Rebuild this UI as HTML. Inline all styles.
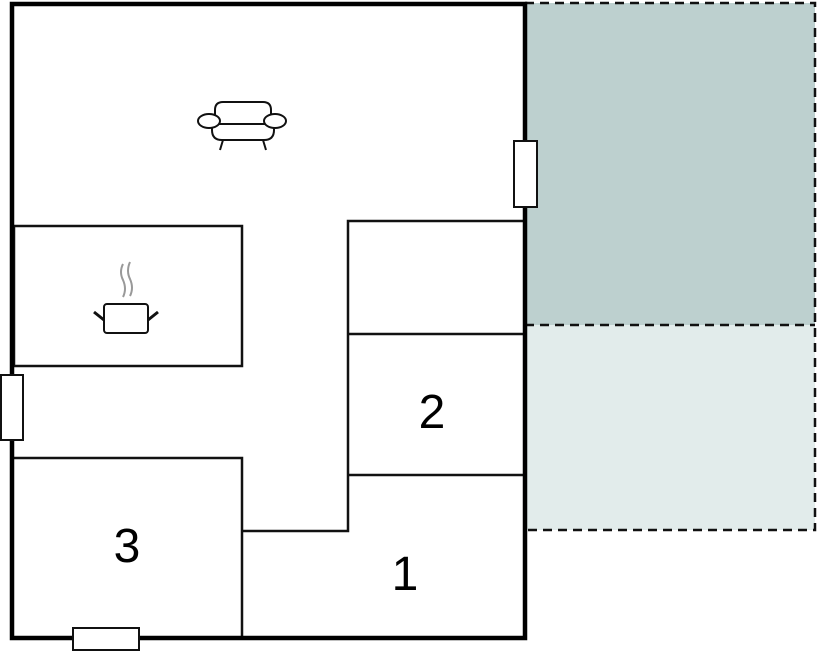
<!DOCTYPE html>
<html><head><style>body{margin:0;background:#fff;}svg{display:block}</style></head>
<body>
<svg width="819" height="652" xmlns="http://www.w3.org/2000/svg">
<rect x="525" y="3" width="290" height="322" fill="#bdd0cf"/>
<rect x="525" y="325" width="290" height="205" fill="#e2eceb"/>
<g stroke="#111" stroke-width="2.5" stroke-dasharray="9,6" fill="none">
<path d="M525 3 H815 V530 H525"/><path d="M525 325 H815"/>
</g>
<g stroke="#111" stroke-width="2.5" fill="none">
<rect x="14" y="226" width="228" height="140"/>
<path d="M14 458 H242 V638"/>
<path d="M242 531 H348 V221 H525"/>
<path d="M348 334 H525 M348 475 H525"/>
</g>
<rect x="12" y="4" width="513" height="634" fill="none" stroke="#000" stroke-width="4.5"/>
<g fill="#fff" stroke="#111" stroke-width="2">
<rect x="514" y="141" width="23" height="66"/>
<rect x="1" y="375" width="22" height="65"/>
<rect x="73" y="628" width="66" height="22"/>
</g>
<g font-family="Liberation Sans, sans-serif" font-size="48" fill="#000" text-anchor="middle">
<text x="405" y="590">1</text><text x="432" y="428">2</text><text x="127" y="562">3</text>
</g>
<g stroke="#111" stroke-width="2" fill="#fff">
<path d="M215 124 V110 Q215 102 223 102 H263 Q271 102 271 110 V124 Z"/>
<path d="M212 124 H274 V130 Q274 140 264 140 H222 Q212 140 212 130 Z"/>
<ellipse cx="209" cy="121" rx="11" ry="7"/><ellipse cx="275" cy="121" rx="11" ry="7"/>
<path d="M223 140 L220 150 M263 140 L266 150" fill="none"/>
<rect x="104" y="304" width="44" height="29" rx="3"/>
<path d="M94 312 L104 320 M158 312 L148 320" stroke-width="3"/>
</g>
<g stroke="#999" stroke-width="2" fill="none">
<path d="M123 264 Q119 272 123 280 Q127 289 123 297"/>
<path d="M130 262 Q126 271 130 279 Q134 288 130 296"/>
</g>
</svg>
</body></html>
